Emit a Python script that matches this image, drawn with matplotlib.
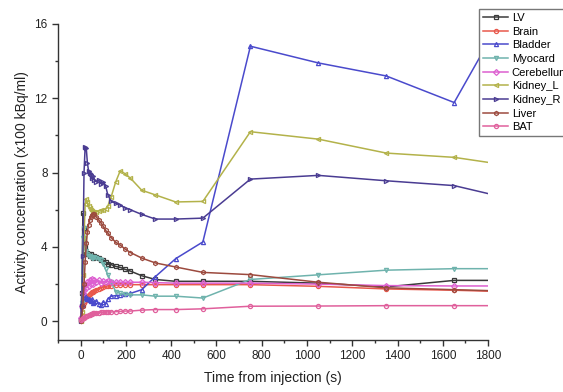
import numpy as np
import matplotlib
matplotlib.use("Agg")
import matplotlib.pyplot as plt
from matplotlib.ticker import MultipleLocator

plt.rcParams['font.family'] = ['Liberation Sans', 'DejaVu Sans']

# frame mid-times (s)
time_s = [0, 5, 10, 15, 20, 25, 30, 35, 40, 45, 50, 55, 60, 70, 80, 90, 100,
          110, 120, 135, 155, 175, 195, 220, 270, 330, 420, 540, 750, 1050,
          1350, 1650, 1800]

# activity concentration (x100 kBq/ml)
lv = [0.1, 1.5, 5.8, 5.0, 4.0, 3.6, 3.7, 3.6, 3.5, 3.6, 3.5, 3.4, 3.5, 3.45,
      3.4, 3.3, 3.3, 3.2, 3.1, 3.05, 2.95, 2.9, 2.8, 2.7, 2.45, 2.25, 2.15,
      2.15, 2.15, 2.05, 1.85, 2.2, 2.2]
brain = [0.0, 0.3, 0.8, 1.0, 1.1, 1.2, 1.3, 1.4, 1.45, 1.5, 1.55, 1.6, 1.65,
         1.7, 1.75, 1.8, 1.85, 1.88, 1.9, 1.92, 1.95, 1.95, 1.97, 1.97, 1.97,
         1.97, 1.97, 1.97, 1.97, 1.88, 1.74, 1.67, 1.62]
bladder = [0.2, 1.0, 1.8, 1.5, 1.3, 1.2, 1.25, 1.2, 1.15, 1.1, 1.2, 1.0, 1.05,
           1.1, 0.95, 0.9, 1.05, 0.95, 1.2, 1.35, 1.38, 1.4, 1.45, 1.5, 1.7,
           2.4, 3.37, 4.27, 14.8, 13.9, 13.2, 11.77, 15.0]
myocard = [0.0, 1.0, 4.5, 5.0, 4.2, 3.8, 3.6, 3.5, 3.5, 3.45, 3.4, 3.4, 3.45,
           3.4, 3.35, 3.3, 3.1, 2.8, 2.5, 2.1, 1.6, 1.5, 1.45, 1.42, 1.42,
           1.35, 1.35, 1.25, 2.25, 2.5, 2.75, 2.83, 2.83]
cerebellum = [0.2, 0.8, 1.5, 1.7, 2.0, 1.8, 2.1, 1.9, 2.2, 2.0, 2.3, 2.0, 2.2,
              2.1, 2.2, 2.05, 2.15, 2.1, 2.15, 2.1, 2.1, 2.1, 2.1, 2.1, 2.1,
              2.08, 2.05, 2.05, 2.05, 2.0, 1.92, 1.9, 1.9]
kidney_l = [0.0, 0.5, 2.5, 4.5, 6.3, 6.6, 6.4, 6.2, 6.1, 6.0, 5.95, 5.9, 5.9,
            5.9, 5.95, 6.0, 6.0, 6.05, 6.2, 6.7, 7.5, 8.1, 7.95, 7.7, 7.05,
            6.8, 6.42, 6.45, 10.2, 9.8, 9.05, 8.82, 8.55]
kidney_r = [0.0, 0.8, 3.5, 8.0, 9.4, 9.3, 8.5, 8.1, 8.0, 7.9, 7.7, 7.8, 7.6,
            7.5, 7.6, 7.4, 7.5, 7.3, 6.8, 6.45, 6.35, 6.25, 6.1, 6.0, 5.75,
            5.5, 5.5, 5.55, 7.65, 7.85, 7.56, 7.3, 6.87]
liver = [0.0, 0.2, 0.8, 2.0, 3.2, 4.2, 4.8, 5.2, 5.45, 5.6, 5.7, 5.75, 5.75,
         5.6, 5.45, 5.3, 5.1, 4.9, 4.75, 4.5, 4.25, 4.1, 3.9, 3.7, 3.4, 3.14,
         2.92, 2.63, 2.51, 2.1, 1.8, 1.7, 1.65]
bat = [0.05, 0.1, 0.15, 0.2, 0.25, 0.3, 0.3, 0.35, 0.35, 0.4, 0.4, 0.42, 0.45,
       0.45, 0.47, 0.48, 0.48, 0.5, 0.5, 0.5, 0.52, 0.53, 0.55, 0.55, 0.6,
       0.63, 0.63, 0.67, 0.81, 0.82, 0.84, 0.84, 0.84]

labels = ['LV', 'Brain', 'Bladder', 'Myocard', 'Cerebellum', 'Kidney_L',
          'Kidney_R', 'Liver', 'BAT']
series = [lv, brain, bladder, myocard, cerebellum, kidney_l, kidney_r, liver, bat]
colors = ['#3a3a3a', '#e8584c', '#4a4acc', '#6fb3ad', '#dd5fd0', '#b3b24a',
          '#4a3c92', '#9c4a3e', '#e0609c']
markers = ['s', 'o', '^', 'v', 'D', '<', '>', 'h', 'o']

fig = plt.figure(figsize=(5.63, 3.92), dpi=100)
ax = fig.add_axes([0.103, 0.133, 0.764, 0.806])

for y, lab, c, m in zip(series, labels, colors, markers):
    ax.plot(time_s, y, color=c, marker=m, markersize=3, linewidth=1.1,
            markerfacecolor='none', markeredgewidth=0.9,
            markevery=slice(0, len(time_s) - 1), label=lab)

ax.set_xlim(-100, 1800)
ax.set_ylim(-1, 16)
ax.xaxis.set_major_locator(MultipleLocator(200))
ax.xaxis.set_minor_locator(MultipleLocator(100))
ax.yaxis.set_major_locator(MultipleLocator(4))
ax.yaxis.set_minor_locator(MultipleLocator(2))

for s in ['top', 'right']:
    ax.spines[s].set_visible(False)
for s in ['left', 'bottom']:
    ax.spines[s].set_color('#333333')
    ax.spines[s].set_linewidth(1.0)
ax.tick_params(which='major', direction='out', length=4, width=1,
               color='#333333', labelsize=8.5, labelcolor='#222222')
ax.tick_params(which='minor', direction='out', length=2.5, width=1,
               color='#333333')

ax.set_xlabel('Time from injection (s)', fontsize=10, color='#222222',
              labelpad=6)
ax.set_ylabel('Activity concentration (x100 kBq/ml)', fontsize=10,
              color='#222222')

leg = ax.legend(loc='upper left', bbox_to_anchor=(479 / 563, 1 - 9 / 392),
                bbox_transform=fig.transFigure, borderaxespad=0,
                fontsize=8, labelspacing=0.33, handlelength=2.3,
                handletextpad=0.3, borderpad=0.35, fancybox=False,
                framealpha=1, edgecolor='#777777')
leg.get_frame().set_linewidth(1.0)

fig.savefig('out.png', dpi=100)
